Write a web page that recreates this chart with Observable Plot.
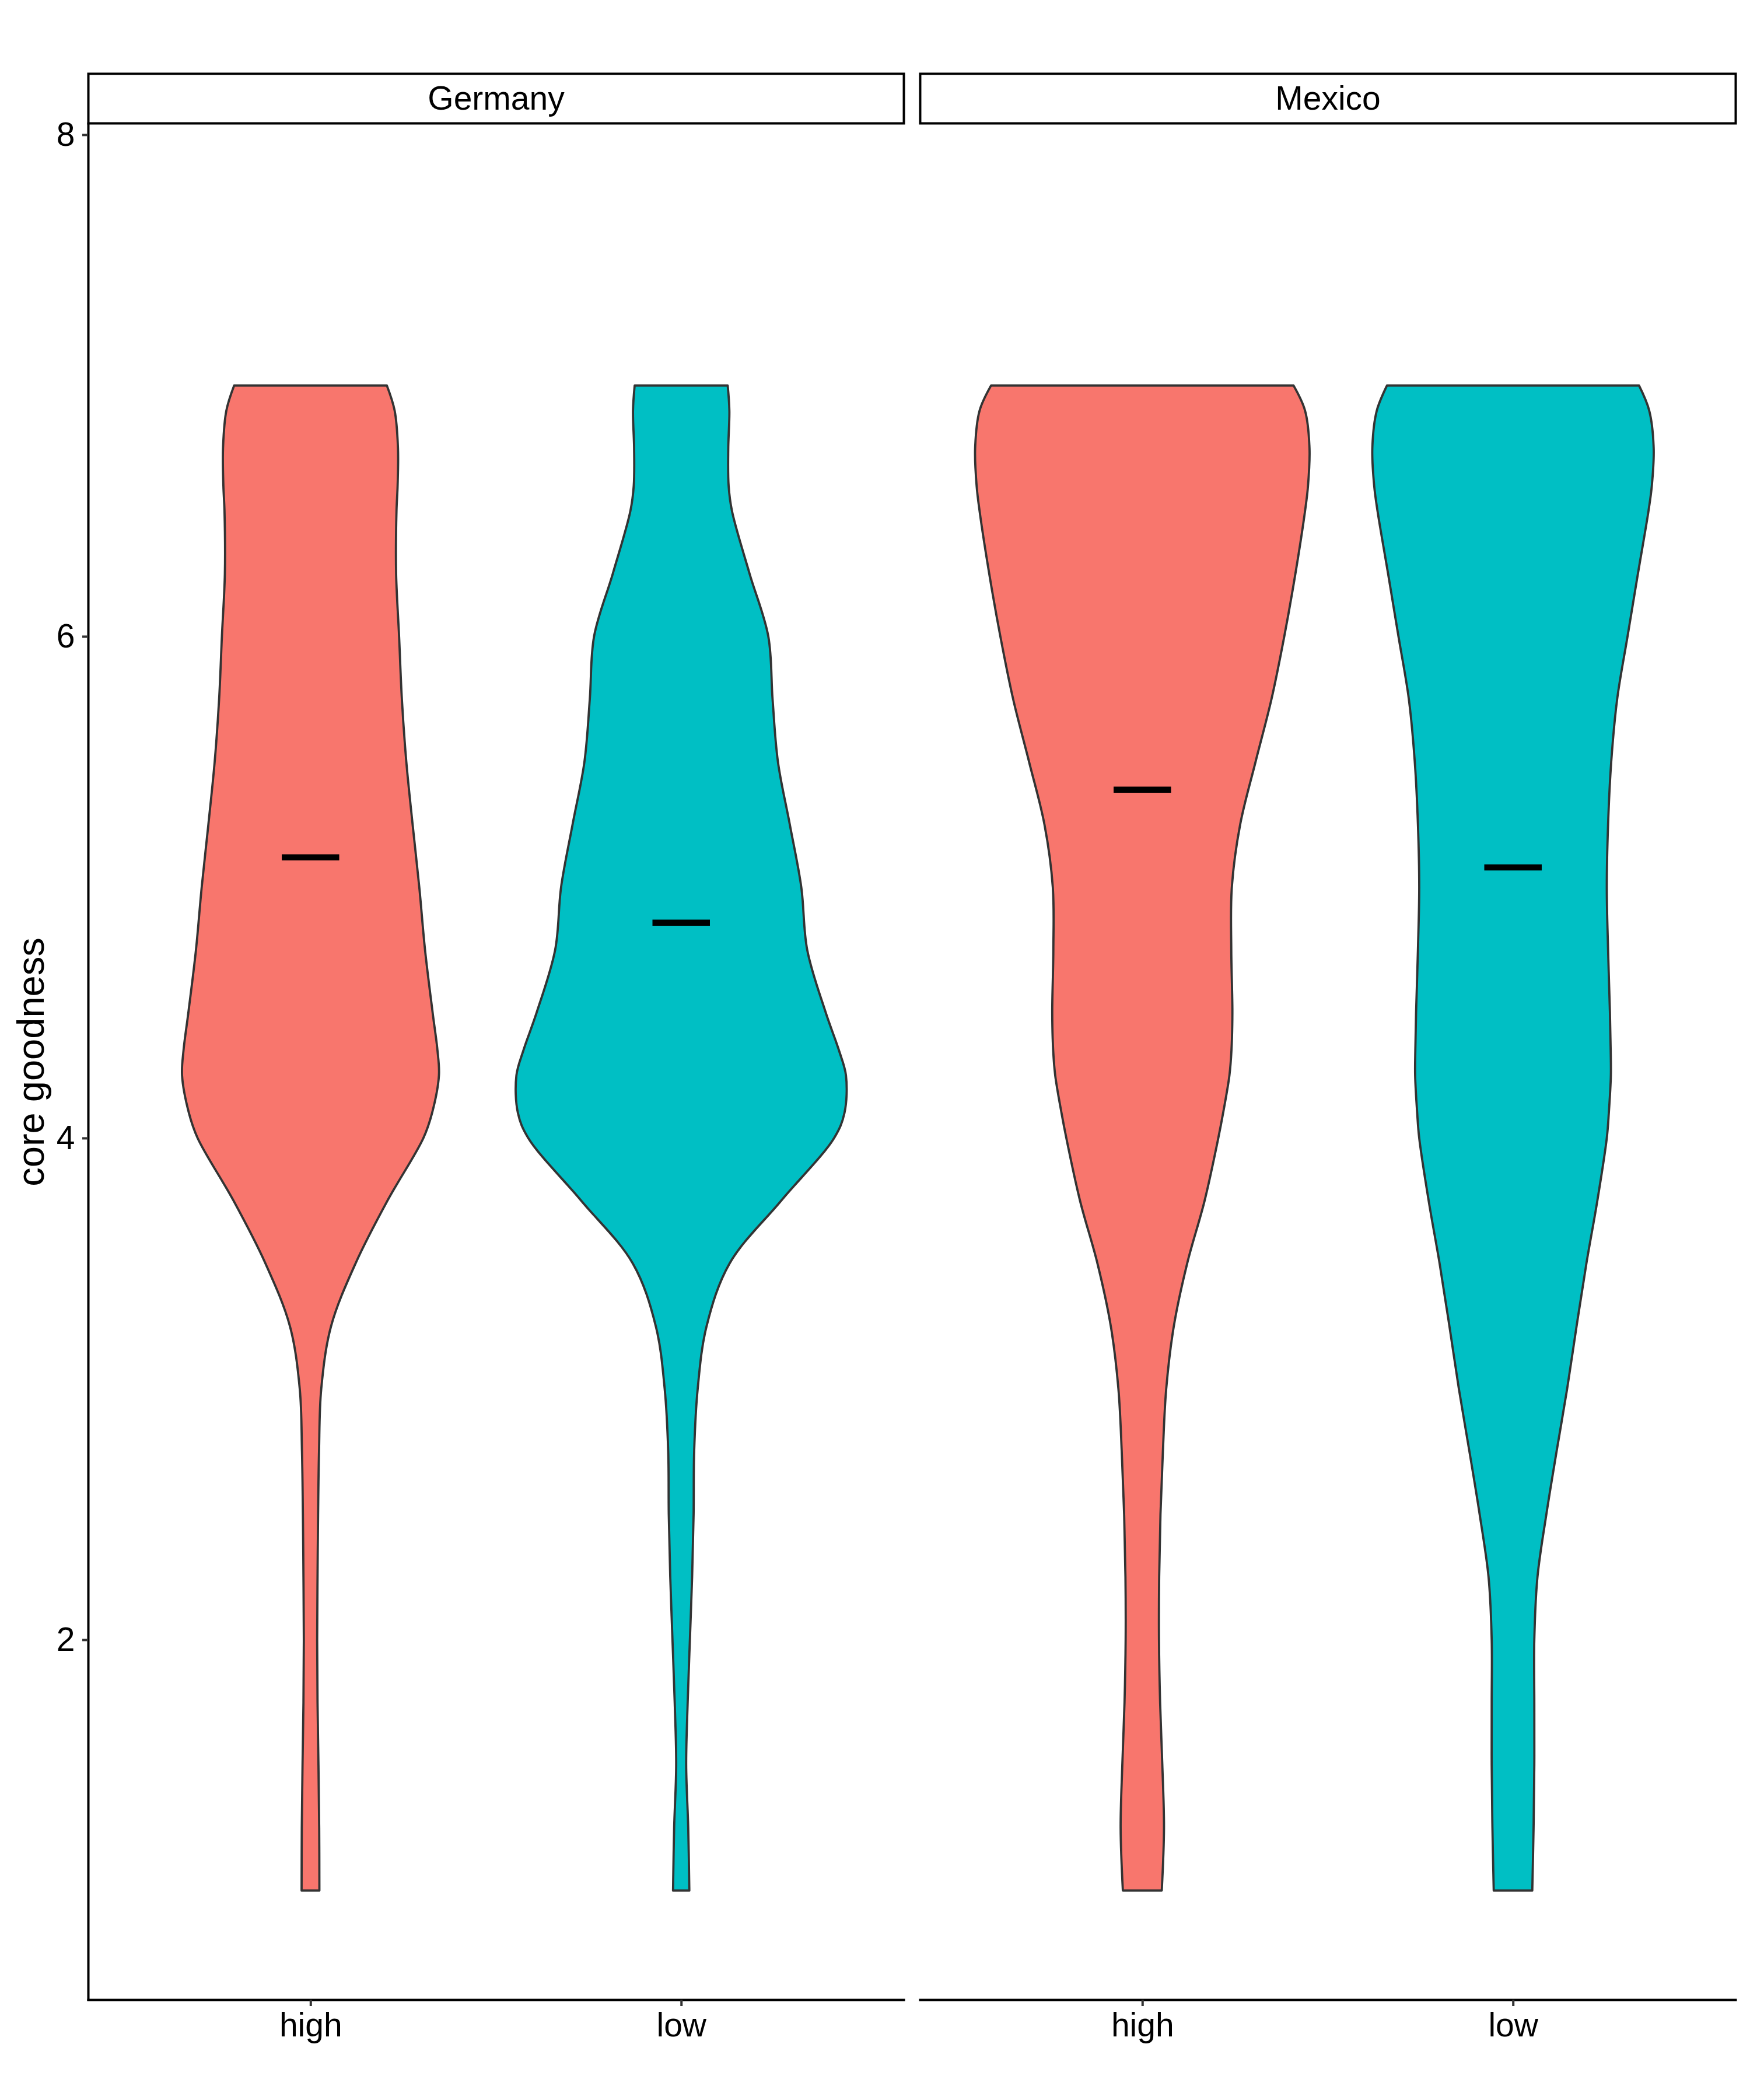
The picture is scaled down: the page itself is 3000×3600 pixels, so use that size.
<!DOCTYPE html>
<html>
<head>
<meta charset="utf-8">
<script src="https://cdn.jsdelivr.net/npm/d3@7"></script>
<script src="https://cdn.jsdelivr.net/npm/@observablehq/plot@0.6"></script>
<style>
  html, body { margin: 0; padding: 0; background: #ffffff; }
  svg { display: block; }
</style>
</head>
<body>
<div id="chart"></div>
<script>
// ---- data ----
const countries = ["Germany", "Mexico"];
const groups = ["high", "low"];
const groupPos = [1, 2];
const yTitle = "core goodness";
const yTicks = [2, 4, 6, 8];

// y levels at which violin widths were read (core goodness values)
const levels = [7, 6.9, 6.75, 6.6, 6.5, 6.25, 6, 5.75, 5.5, 5.25, 5, 4.75, 4.5, 4.35, 4.25, 4.1, 4, 3.75, 3.5, 3.25, 3, 2.75, 2.5, 2.25, 2, 1.75, 1.5, 1.25, 1];

// full violin widths (in category units) at each level
const germanyHigh = [0.412, 0.454, 0.472, 0.470, 0.464, 0.462, 0.478, 0.493, 0.517, 0.551, 0.587, 0.618, 0.659, 0.685, 0.693, 0.656, 0.609, 0.415, 0.243, 0.111, 0.058, 0.046, 0.041, 0.038, 0.036, 0.038, 0.043, 0.047, 0.048];
const germanyLow  = [0.251, 0.260, 0.254, 0.256, 0.274, 0.369, 0.470, 0.493, 0.522, 0.586, 0.648, 0.680, 0.780, 0.851, 0.889, 0.881, 0.825, 0.539, 0.261, 0.137, 0.089, 0.070, 0.067, 0.059, 0.047, 0.035, 0.027, 0.038, 0.044];
const mexicoHigh  = [0.816, 0.878, 0.902, 0.894, 0.878, 0.826, 0.766, 0.697, 0.611, 0.528, 0.483, 0.480, 0.486, 0.481, 0.470, 0.436, 0.410, 0.336, 0.242, 0.170, 0.129, 0.111, 0.098, 0.091, 0.090, 0.096, 0.108, 0.117, 0.105];
const mexicoLow   = [0.680, 0.735, 0.759, 0.749, 0.731, 0.674, 0.618, 0.562, 0.530, 0.513, 0.506, 0.513, 0.523, 0.527, 0.528, 0.517, 0.506, 0.455, 0.396, 0.343, 0.292, 0.235, 0.180, 0.132, 0.115, 0.115, 0.115, 0.111, 0.104];

// group means
const meanCountry = ["Germany", "Germany", "Mexico", "Mexico"];
const meanGroup = ["high", "low", "high", "low"];
const meanValue = [5.12, 4.86, 5.39, 5.08];

const fillColors = ["#F8766D", "#00BFC4"];

// ---- build tables ----
const series = [
  {country: "Germany", group: "high", widths: germanyHigh},
  {country: "Germany", group: "low", widths: germanyLow},
  {country: "Mexico", group: "high", widths: mexicoHigh},
  {country: "Mexico", group: "low", widths: mexicoLow}
];
const rows = series.flatMap(s => levels.map((v, i) => ({
  country: s.country,
  group: s.group,
  key: s.country + "-" + s.group,
  pos: groupPos[groups.indexOf(s.group)],
  v,
  w: s.widths[i]
})));
const means = meanValue.map((m, i) => ({
  country: meanCountry[i],
  group: meanGroup[i],
  pos: groupPos[groups.indexOf(meanGroup[i])],
  mean: m
}));

const xDomain = [0.4, 2.6];
const crossbarHalf = 0.0775;

const chart = Plot.plot({
  width: 3000,
  height: 3600,
  marginLeft: 151,
  marginRight: 25,
  marginTop: 212,
  marginBottom: 172,
  style: {fontFamily: "'Liberation Sans', Arial, Helvetica, sans-serif", fontSize: "57px", color: "black", background: "white"},
  fx: {domain: countries, paddingInner: 0.0196, paddingOuter: 0, round: false, axis: null, label: null},
  x: {domain: xDomain},
  y: {domain: [0.565, 8.044]},
  color: {domain: groups, range: fillColors},
  marks: [
    Plot.areaX(rows, {
      fx: "country", y: "v",
      x1: d => d.pos - d.w / 2, x2: d => d.pos + d.w / 2,
      z: "key", fill: "group",
      stroke: "#333333", strokeWidth: 3.8,
      curve: "catmull-rom"
    }),
    Plot.ruleY(means, {
      fx: "country", y: "mean",
      x1: d => d.pos - crossbarHalf, x2: d => d.pos + crossbarHalf,
      stroke: "black", strokeWidth: 10.5
    }),
    Plot.frame({anchor: "bottom", stroke: "black", strokeWidth: 4, strokeLinecap: "square"}),
    Plot.ruleX([{country: countries[0]}], {fx: "country", x: () => xDomain[0], stroke: "black", strokeWidth: 4, strokeLinecap: "square"}),
    Plot.axisX({ticks: groupPos, tickFormat: d => groups[d - 1], tickSize: 11, tickPadding: 11, fontSize: 57, stroke: "#333333", strokeWidth: 4, fill: "black", label: null}),
    Plot.axisY({ticks: yTicks, tickSize: 10, tickPadding: 13, fontSize: 57, stroke: "#333333", strokeWidth: 4, fill: "black", label: null}),
    Plot.frame({stroke: "black", strokeWidth: 4, insetTop: -86, insetBottom: 3217}),
    Plot.text(countries, {fx: d => d, text: d => d, frameAnchor: "top", lineAnchor: "middle", textAnchor: "middle", dy: -43, fontSize: 57, fill: "black"}),
    Plot.text([{country: countries[0], label: yTitle}], {fx: "country", text: "label", frameAnchor: "left", textAnchor: "middle", lineAnchor: "middle", rotate: -90, dx: -97, fontSize: 65, fill: "black"})
  ]
});
document.getElementById("chart").appendChild(chart);
</script>
</body>
</html>
